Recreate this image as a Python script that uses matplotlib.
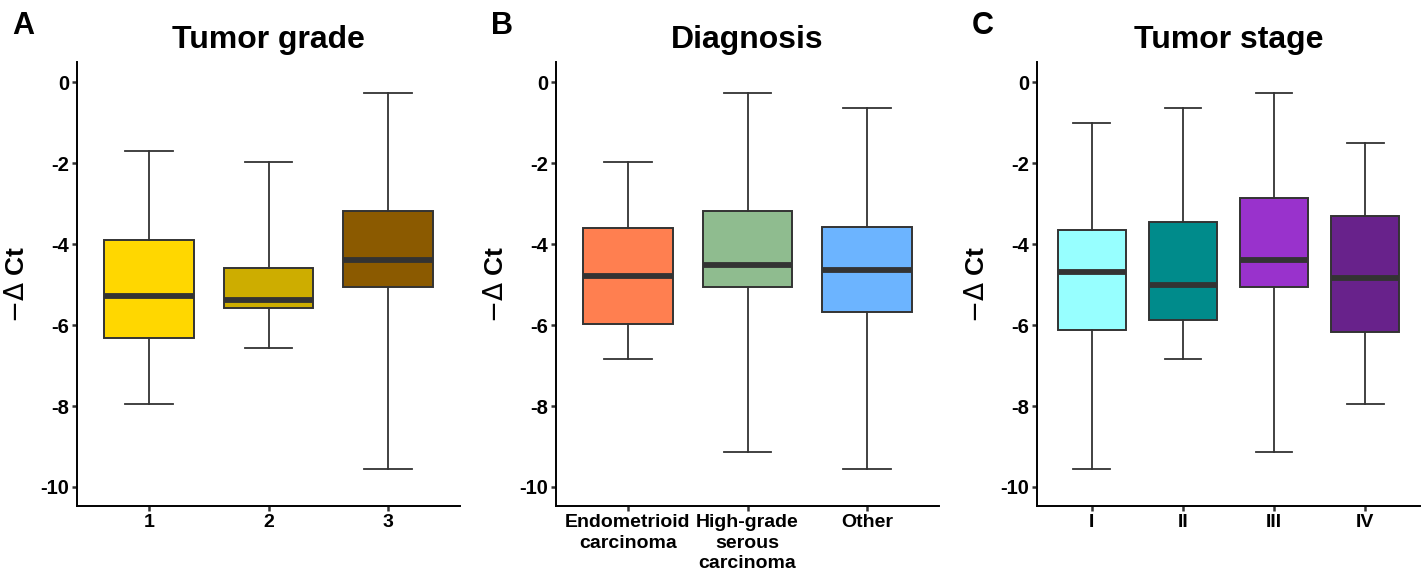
import matplotlib
matplotlib.use("Agg")
import matplotlib.pyplot as plt

plt.rcParams['font.family'] = ['Liberation Sans', 'DejaVu Sans']

# ---- data ----
grade_labels = ["1", "2", "3"]
grade_whislo = [-7.95, -6.57, -9.56]
grade_q1 = [-6.32, -5.57, -5.07]
grade_med = [-5.27, -5.39, -4.40]
grade_q3 = [-3.90, -4.58, -3.18]
grade_whishi = [-1.71, -1.98, -0.27]
grade_colors = ["#FFD700", "#CDAD00", "#8B5A00"]

diag_labels = ["Endometrioid\ncarcinoma", "High-grade\nserous\ncarcinoma", "Other"]
diag_whislo = [-6.84, -9.14, -9.56]
diag_q1 = [-5.97, -5.07, -5.68]
diag_med = [-4.79, -4.52, -4.64]
diag_q3 = [-3.60, -3.19, -3.58]
diag_whishi = [-1.98, -0.27, -0.64]
diag_colors = ["#FF7F50", "#8FBC8F", "#6CB4FF"]

stage_labels = ["I", "II", "III", "IV"]
stage_whislo = [-9.56, -6.84, -9.14, -7.95]
stage_q1 = [-6.12, -5.88, -5.07, -6.17]
stage_med = [-4.69, -5.01, -4.40, -4.84]
stage_q3 = [-3.65, -3.46, -2.86, -3.31]
stage_whishi = [-1.01, -0.64, -0.27, -1.51]
stage_colors = ["#97FFFF", "#008B8B", "#9932CC", "#68228B"]

yticks = [0, -2, -4, -6, -8, -10]

W, H = 1421, 577
fig = plt.figure(figsize=(W / 100, H / 100), dpi=100)

panels = [
    ("A", "Tumor grade", 77, 12, grade_labels, grade_whislo, grade_q1, grade_med, grade_q3, grade_whishi, grade_colors),
    ("B", "Diagnosis", 556, 491, diag_labels, diag_whislo, diag_q1, diag_med, diag_q3, diag_whishi, diag_colors),
    ("C", "Tumor stage", 1037, 972, stage_labels, stage_whislo, stage_q1, stage_med, stage_q3, stage_whishi, stage_colors),
]

ax_top, ax_bot = 62, 506
for letter, title, left, letter_x, labels, lo, q1, med, q3, hi, cols in panels:
    ax = fig.add_axes([left / W, (H - ax_bot) / H, 383 / W, (ax_bot - ax_top) / H])
    stats = []
    for i in range(len(labels)):
        stats.append(dict(whislo=lo[i], q1=q1[i], med=med[i], q3=q3[i], whishi=hi[i], fliers=[]))
    n = len(labels)
    pos = list(range(1, n + 1))
    bp = ax.bxp(stats, positions=pos, widths=0.75, capwidths=0.4, patch_artist=True,
                showfliers=False,
                boxprops=dict(edgecolor="#333333", linewidth=1.4),
                whiskerprops=dict(color="#333333", linewidth=1.3),
                capprops=dict(color="#333333", linewidth=1.3),
                medianprops=dict(color="#333333", linewidth=4.2, solid_capstyle="butt"))
    for patch, c in zip(bp["boxes"], cols):
        patch.set_facecolor(c)
    ax.set_xlim(0.4, n + 0.6)
    ax.set_ylim(-10.47, 0.5)
    ax.set_xticks(pos)
    ax.set_xticklabels(labels, fontsize=14, fontweight="bold", color="black", linespacing=1.3)
    ax.set_yticks(yticks)
    ax.set_yticklabels([str(t) for t in yticks], fontsize=14.5, fontweight="bold", color="black")
    ax.tick_params(axis="both", length=3.5, width=1.8, color="#333333", pad=2)
    for s in ["top", "right"]:
        ax.spines[s].set_visible(False)
    for s in ["left", "bottom"]:
        ax.spines[s].set_linewidth(1.4)
        ax.spines[s].set_color("black")
    ax.set_title(title, fontsize=23, fontweight="bold", pad=10)
    ax.set_ylabel(r"$-\Delta$ Ct", fontsize=19, fontweight="bold", labelpad=8)
    fig.text(letter_x / W, 1 - 26 / H, letter, fontsize=22, fontweight="bold", va="center", ha="left")

fig.savefig("out.png", dpi=100)
